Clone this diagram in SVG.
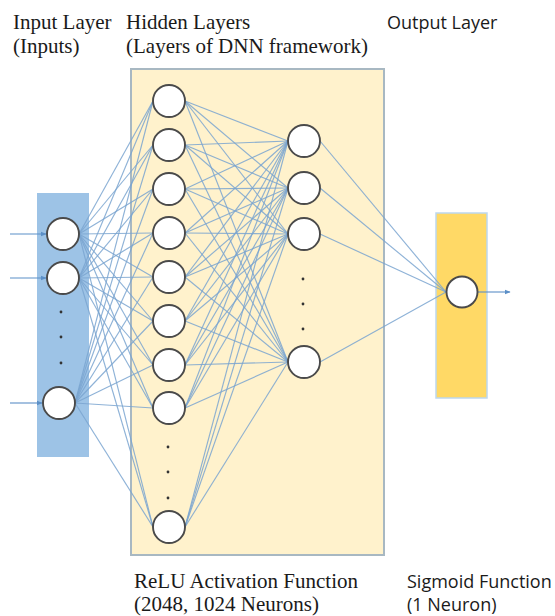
<svg xmlns="http://www.w3.org/2000/svg" width="555" height="616" viewBox="0 0 555 616">
<defs>
<style>
.serif{font-family:"Liberation Serif","Times New Roman",serif;font-size:21px;fill:#1a1a1a}
.sans{font-family:"Open Sans","Noto Sans",sans-serif;font-size:18px;fill:#1a1a1a}
.node{fill:#ffffff;stroke:#4a4a4a;stroke-width:1.9}
.dot{fill:#333333}
#connectors line{stroke:#7aa5d0;stroke-width:1.15;stroke-opacity:0.85}
.arrow{stroke:#5b8fc7;stroke-width:1.1;fill:none}
</style>
<marker id="ah" viewBox="0 0 10 10" refX="9" refY="5" markerWidth="6" markerHeight="6" orient="auto" markerUnits="userSpaceOnUse">
<path d="M0,1 L10,5 L0,9 z" fill="#5b8fc7"/>
</marker>
</defs>
<rect width="555" height="616" fill="#ffffff"/>

<g id="labels">
<text class="serif" x="13" y="29">Input Layer</text>
<text class="serif" x="13" y="53">(Inputs)</text>
<text class="serif" x="126" y="29">Hidden Layers</text>
<text class="serif" x="126" y="53">(Layers of DNN framework)</text>
<text class="sans" x="387" y="29">Output Layer</text>
<text class="serif" x="134" y="588">ReLU Activation Function</text>
<text class="serif" x="134" y="611">(2048, 1024 Neurons)</text>
<text class="sans" x="407" y="588">Sigmoid Function</text>
<text class="sans" x="407" y="611">(1 Neuron)</text>
</g>

<g id="layer-boxes">
<rect id="input-box" x="37" y="193" width="52" height="264" fill="#9dc3e6"/>
<rect id="hidden-box" x="131" y="69" width="253" height="486" fill="#fff2cc" stroke="#a8b8c2" stroke-width="2"/>
<rect id="output-box" x="436" y="213" width="51" height="185" fill="#ffd966" stroke="#bdd7ee" stroke-width="1.5"/>
</g>

<g id="connectors">
<line x1="79" y1="234" x2="153" y2="101"/>
<line x1="79" y1="234" x2="153" y2="145"/>
<line x1="79" y1="234" x2="153" y2="189"/>
<line x1="79" y1="234" x2="153" y2="233"/>
<line x1="79" y1="234" x2="153" y2="277"/>
<line x1="79" y1="234" x2="153" y2="321"/>
<line x1="79" y1="234" x2="153" y2="365"/>
<line x1="79" y1="234" x2="153" y2="408"/>
<line x1="79" y1="234" x2="153" y2="527"/>
<line x1="79" y1="278" x2="153" y2="101"/>
<line x1="79" y1="278" x2="153" y2="145"/>
<line x1="79" y1="278" x2="153" y2="189"/>
<line x1="79" y1="278" x2="153" y2="233"/>
<line x1="79" y1="278" x2="153" y2="277"/>
<line x1="79" y1="278" x2="153" y2="321"/>
<line x1="79" y1="278" x2="153" y2="365"/>
<line x1="79" y1="278" x2="153" y2="408"/>
<line x1="79" y1="278" x2="153" y2="527"/>
<line x1="75" y1="403" x2="153" y2="101"/>
<line x1="75" y1="403" x2="153" y2="145"/>
<line x1="75" y1="403" x2="153" y2="189"/>
<line x1="75" y1="403" x2="153" y2="233"/>
<line x1="75" y1="403" x2="153" y2="277"/>
<line x1="75" y1="403" x2="153" y2="321"/>
<line x1="75" y1="403" x2="153" y2="365"/>
<line x1="75" y1="403" x2="153" y2="408"/>
<line x1="75" y1="403" x2="153" y2="527"/>

<line x1="185" y1="101" x2="288" y2="141"/>
<line x1="185" y1="101" x2="288" y2="188"/>
<line x1="185" y1="101" x2="288" y2="234"/>
<line x1="185" y1="101" x2="288" y2="362"/>
<line x1="185" y1="145" x2="288" y2="141"/>
<line x1="185" y1="145" x2="288" y2="188"/>
<line x1="185" y1="145" x2="288" y2="234"/>
<line x1="185" y1="145" x2="288" y2="362"/>
<line x1="185" y1="189" x2="288" y2="141"/>
<line x1="185" y1="189" x2="288" y2="188"/>
<line x1="185" y1="189" x2="288" y2="234"/>
<line x1="185" y1="189" x2="288" y2="362"/>
<line x1="185" y1="233" x2="288" y2="141"/>
<line x1="185" y1="233" x2="288" y2="188"/>
<line x1="185" y1="233" x2="288" y2="234"/>
<line x1="185" y1="233" x2="288" y2="362"/>
<line x1="185" y1="277" x2="288" y2="141"/>
<line x1="185" y1="277" x2="288" y2="188"/>
<line x1="185" y1="277" x2="288" y2="234"/>
<line x1="185" y1="277" x2="288" y2="362"/>
<line x1="185" y1="321" x2="288" y2="141"/>
<line x1="185" y1="321" x2="288" y2="188"/>
<line x1="185" y1="321" x2="288" y2="234"/>
<line x1="185" y1="321" x2="288" y2="362"/>
<line x1="185" y1="365" x2="288" y2="141"/>
<line x1="185" y1="365" x2="288" y2="188"/>
<line x1="185" y1="365" x2="288" y2="234"/>
<line x1="185" y1="365" x2="288" y2="362"/>
<line x1="185" y1="408" x2="288" y2="141"/>
<line x1="185" y1="408" x2="288" y2="188"/>
<line x1="185" y1="408" x2="288" y2="234"/>
<line x1="185" y1="408" x2="288" y2="362"/>
<line x1="185" y1="527" x2="288" y2="141"/>
<line x1="185" y1="527" x2="288" y2="188"/>
<line x1="185" y1="527" x2="288" y2="234"/>
<line x1="185" y1="527" x2="288" y2="362"/>

<line x1="320" y1="141" x2="446" y2="292"/>
<line x1="320" y1="188" x2="446" y2="292"/>
<line x1="320" y1="234" x2="446" y2="292"/>
<line x1="320" y1="362" x2="446" y2="292"/>
</g>

<g id="io-arrows">
<line class="arrow" x1="10" y1="234" x2="46" y2="234" marker-end="url(#ah)"/>
<line class="arrow" x1="10" y1="278" x2="46" y2="278" marker-end="url(#ah)"/>
<line class="arrow" x1="10" y1="403" x2="42" y2="403" marker-end="url(#ah)"/>
<line class="arrow" x1="478" y1="292" x2="510" y2="292" marker-end="url(#ah)"/>
</g>

<g id="input-layer">
<g id="in1"><circle class="node" cx="63" cy="234" r="16"/></g>
<g id="in2"><circle class="node" cx="63" cy="278" r="16"/></g>
<g id="in-dots"><circle class="dot" cx="61" cy="312" r="1.4"/><circle class="dot" cx="61" cy="337" r="1.4"/><circle class="dot" cx="61" cy="363" r="1.4"/></g>
<g id="in3"><circle class="node" cx="59" cy="403" r="16"/></g>
</g>

<g id="hidden-layer-1">
<g id="h1-1"><circle class="node" cx="169" cy="101" r="16"/></g>
<g id="h1-2"><circle class="node" cx="169" cy="145" r="16"/></g>
<g id="h1-3"><circle class="node" cx="169" cy="189" r="16"/></g>
<g id="h1-4"><circle class="node" cx="169" cy="233" r="16"/></g>
<g id="h1-5"><circle class="node" cx="169" cy="277" r="16"/></g>
<g id="h1-6"><circle class="node" cx="169" cy="321" r="16"/></g>
<g id="h1-7"><circle class="node" cx="169" cy="365" r="16"/></g>
<g id="h1-8"><circle class="node" cx="169" cy="408" r="16"/></g>
<g id="h1-dots"><circle class="dot" cx="168" cy="447" r="1.4"/><circle class="dot" cx="168" cy="472" r="1.4"/><circle class="dot" cx="168" cy="498" r="1.4"/></g>
<g id="h1-9"><circle class="node" cx="169" cy="527" r="16"/></g>
</g>

<g id="hidden-layer-2">
<g id="h2-1"><circle class="node" cx="304" cy="141" r="16"/></g>
<g id="h2-2"><circle class="node" cx="304" cy="188" r="16"/></g>
<g id="h2-3"><circle class="node" cx="304" cy="234" r="16"/></g>
<g id="h2-dots"><circle class="dot" cx="303" cy="279" r="1.4"/><circle class="dot" cx="303" cy="304" r="1.4"/><circle class="dot" cx="303" cy="329" r="1.4"/></g>
<g id="h2-4"><circle class="node" cx="304" cy="362" r="16"/></g>
</g>

<g id="output-layer">
<g id="out1"><circle class="node" cx="462" cy="292" r="15.5"/></g>
</g>
</svg>
